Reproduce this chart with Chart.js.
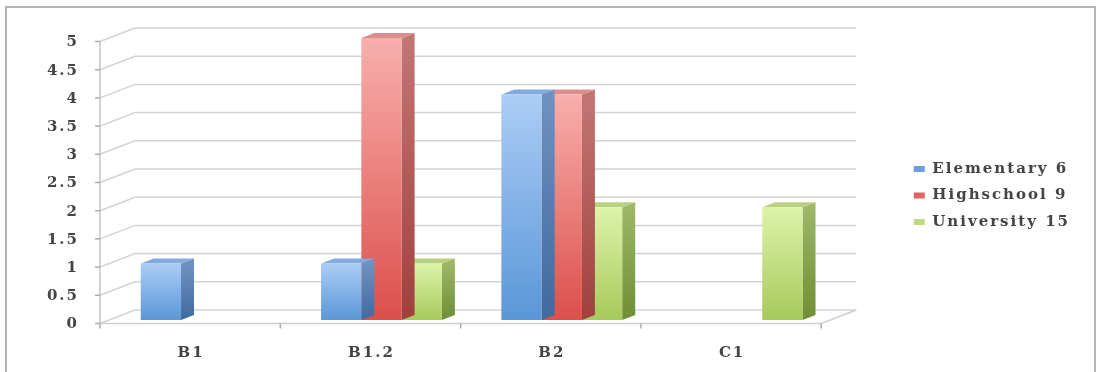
<!DOCTYPE html>
<html>
<head>
<meta charset="utf-8">
<script src="https://cdn.jsdelivr.net/npm/chart.js@4.4.0/dist/chart.umd.min.js"></script>
<style>
  html, body { margin: 0; padding: 0; background: #fff; }
  #wrap { width: 1109px; height: 372px; }
</style>
</head>
<body>
<div id="wrap"><canvas id="levelsChart"></canvas></div>
<script>
// data
const categories = ['B1', 'B1.2', 'B2', 'C1'];
const seriesNames = ['Elementary 6', 'Highschool 9', 'University 15'];
const elementary = [1, 1, 4, 0];
const highschool = [0, 5, 4, 0];
const university = [0, 1, 2, 2];
const yTicks = [0, 0.5, 1, 1.5, 2, 2.5, 3, 3.5, 4, 4.5, 5];

// colours for each series: front face, side, top, legend
const palette = [
    { light: '#abcdf5', dark: '#5a96d8', sideLight: '#6f91c0', sideDark: '#3f6a9e', top: '#82aadd', legend: '#6c9fe0' },
    { light: '#f8afad', dark: '#dc4f4b', sideLight: '#c27674', sideDark: '#a0403d', top: '#dc8e8c', legend: '#e26462' },
    { light: '#def3ab', dark: '#a6ca5b', sideLight: '#9db767', sideDark: '#6e8e35', top: '#b7d17f', legend: '#bedb84' }
];

const FONT = { family: '"DejaVu Serif", serif', size: 15, weight: 'bold' };
const TEXT_COLOR = '#444';
const LETTER_SPACING = '2px';

// 3d offsets relative to the bar plane
const FRONT = { dx: -11, dy: 3.5 };
const BACK = { dx: 24, dy: -10 };
const DEPTH = { dx: 13, dy: -5 };

function frontFill(i) {
    return function (context) {
        const chart = context.chart;
        if (!chart.chartArea || context.type !== 'data') return palette[i].dark;
        const ys = chart.scales.y;
        const top = ys.getPixelForValue(context.parsed.y);
        const base = ys.getPixelForValue(0);
        if (!(base > top)) return palette[i].dark;
        const g = chart.ctx.createLinearGradient(0, top, 0, base);
        g.addColorStop(0, palette[i].light);
        g.addColorStop(1, palette[i].dark);
        return g;
    };
}

// wide lettering like the original
const spacingPlugin = {
    id: 'spacing',
    beforeLayout(chart) { chart.ctx.letterSpacing = LETTER_SPACING; },
    beforeDraw(chart) { chart.ctx.letterSpacing = LETTER_SPACING; }
};

// frame round the whole picture
const framePlugin = {
    id: 'frame',
    beforeDraw(chart) {
        const ctx = chart.ctx;
        ctx.save();
        ctx.fillStyle = '#fff';
        ctx.fillRect(0, 0, chart.width, chart.height);
        ctx.strokeStyle = '#b4b4b4';
        ctx.lineWidth = 2;
        ctx.strokeRect(6, 7, 1089, 380);
        ctx.restore();
    }
};

// walls, floor, axis lines and value labels of the 3d box
const wallsPlugin = {
    id: 'walls',
    beforeDatasetsDraw(chart) {
        const ctx = chart.ctx;
        const a = chart.chartArea;
        const ys = chart.scales.y;
        const y0 = ys.getPixelForValue(0);
        const yTop = ys.getPixelForValue(yTicks[yTicks.length - 1]);
        ctx.save();
        ctx.lineWidth = 1.5;
        ctx.strokeStyle = '#d3d3d3';
        yTicks.forEach(v => {
            const py = ys.getPixelForValue(v);
            ctx.beginPath();
            ctx.moveTo(a.left + FRONT.dx, py + FRONT.dy);
            ctx.lineTo(a.left + BACK.dx, py + BACK.dy);
            ctx.lineTo(a.right + BACK.dx, py + BACK.dy);
            ctx.stroke();
        });
        // floor edges
        ctx.strokeStyle = '#cfcfcf';
        ctx.beginPath();
        ctx.moveTo(a.left + FRONT.dx, y0 + FRONT.dy);
        ctx.lineTo(a.right + FRONT.dx, y0 + FRONT.dy);
        ctx.lineTo(a.right + BACK.dx, y0 + BACK.dy);
        ctx.stroke();
        // value axis
        ctx.strokeStyle = '#c4c4c4';
        ctx.beginPath();
        ctx.moveTo(a.left + FRONT.dx, y0 + FRONT.dy);
        ctx.lineTo(a.left + FRONT.dx, yTop + FRONT.dy);
        ctx.stroke();
        ctx.strokeStyle = '#aaa';
        ctx.fillStyle = TEXT_COLOR;
        ctx.font = `${FONT.weight} ${FONT.size}px ${FONT.family}`;
        ctx.textAlign = 'right';
        ctx.textBaseline = 'middle';
        yTicks.forEach(v => {
            const py = ys.getPixelForValue(v) + FRONT.dy;
            ctx.beginPath();
            ctx.moveTo(a.left + FRONT.dx - 5, py);
            ctx.lineTo(a.left + FRONT.dx, py);
            ctx.stroke();
            ctx.fillText(String(v), a.left + FRONT.dx - 21, py + 1);
        });
        // category ticks
        const step = (a.right - a.left) / categories.length;
        for (let i = 0; i <= categories.length; i++) {
            const px = a.left + i * step + FRONT.dx;
            ctx.beginPath();
            ctx.moveTo(px, y0 + FRONT.dy);
            ctx.lineTo(px, y0 + FRONT.dy + 5);
            ctx.stroke();
        }
        ctx.restore();
    }
};

// side and top faces of each bar, drawn just before its front face
const boxPlugin = {
    id: 'box3d',
    beforeDatasetDraw(chart, args) {
        const ctx = chart.ctx;
        const col = palette[args.index];
        const values = chart.data.datasets[args.index].data;
        ctx.save();
        args.meta.data.forEach((bar, j) => {
            if (!values[j]) return;
            const p = bar.getProps(['x', 'y', 'base', 'width'], true);
            const left = p.x - p.width / 2;
            const right = p.x + p.width / 2;
            const sg = ctx.createLinearGradient(0, p.y, 0, p.base);
            sg.addColorStop(0, col.sideLight);
            sg.addColorStop(1, col.sideDark);
            ctx.fillStyle = sg;
            ctx.beginPath();
            ctx.moveTo(right, p.y);
            ctx.lineTo(right + DEPTH.dx, p.y + DEPTH.dy);
            ctx.lineTo(right + DEPTH.dx, p.base + DEPTH.dy);
            ctx.lineTo(right, p.base);
            ctx.closePath();
            ctx.fill();
            ctx.fillStyle = col.top;
            ctx.beginPath();
            ctx.moveTo(left, p.y);
            ctx.lineTo(right, p.y);
            ctx.lineTo(right + DEPTH.dx, p.y + DEPTH.dy);
            ctx.lineTo(left + DEPTH.dx, p.y + DEPTH.dy);
            ctx.closePath();
            ctx.fill();
        });
        ctx.restore();
    }
};

const ctx = document.getElementById('levelsChart').getContext('2d');

new Chart(ctx, {
    type: 'bar',
    data: {
        labels: categories,
        datasets: [
            { label: seriesNames[0], data: elementary, backgroundColor: frontFill(0) },
            { label: seriesNames[1], data: highschool, backgroundColor: frontFill(1) },
            { label: seriesNames[2], data: university, backgroundColor: frontFill(2) }
        ]
    },
    options: {
        responsive: true,
        maintainAspectRatio: false,
        animation: false,
        layout: { padding: { left: 0, top: 19, right: 29, bottom: 0 } },
        datasets: {
            bar: { categoryPercentage: 0.67, barPercentage: 1.0, borderWidth: 0 }
        },
        plugins: {
            tooltip: { enabled: false },
            legend: {
                position: 'right',
                align: 'center',
                labels: {
                    boxWidth: 11,
                    boxHeight: 6,
                    padding: 11.5,
                    font: FONT,
                    color: TEXT_COLOR,
                    generateLabels: () => seriesNames.map((name, i) => ({
                        text: name,
                        fillStyle: palette[i].legend,
                        strokeStyle: palette[i].legend,
                        lineWidth: 0,
                        hidden: false,
                        datasetIndex: i,
                        fontColor: TEXT_COLOR
                    }))
                }
            }
        },
        scales: {
            x: {
                position: 'bottom',
                grid: { display: false, drawTicks: false },
                border: { display: false },
                ticks: { font: FONT, color: TEXT_COLOR, padding: 24, labelOffset: -10 },
                afterFit: s => { s.height = 52; }
            },
            y: {
                position: 'left',
                min: 0,
                max: 5,
                grid: { display: false, drawTicks: false },
                border: { display: false },
                afterBuildTicks: s => { s.ticks = yTicks.map(v => ({ value: v })); },
                ticks: { display: false },
                afterFit: s => { s.width = 111; }
            },
            topGap: {
                axis: 'x',
                type: 'linear',
                position: 'top',
                grid: { display: false, drawTicks: false },
                border: { display: false },
                ticks: { display: false },
                afterFit: s => { s.height = 19; }
            },
            rightGap: {
                axis: 'y',
                type: 'linear',
                position: 'right',
                grid: { display: false, drawTicks: false },
                border: { display: false },
                ticks: { display: false },
                afterFit: s => { s.width = 70; }
            }
        }
    },
    plugins: [spacingPlugin, framePlugin, wallsPlugin, boxPlugin]
});
</script>
</body>
</html>
